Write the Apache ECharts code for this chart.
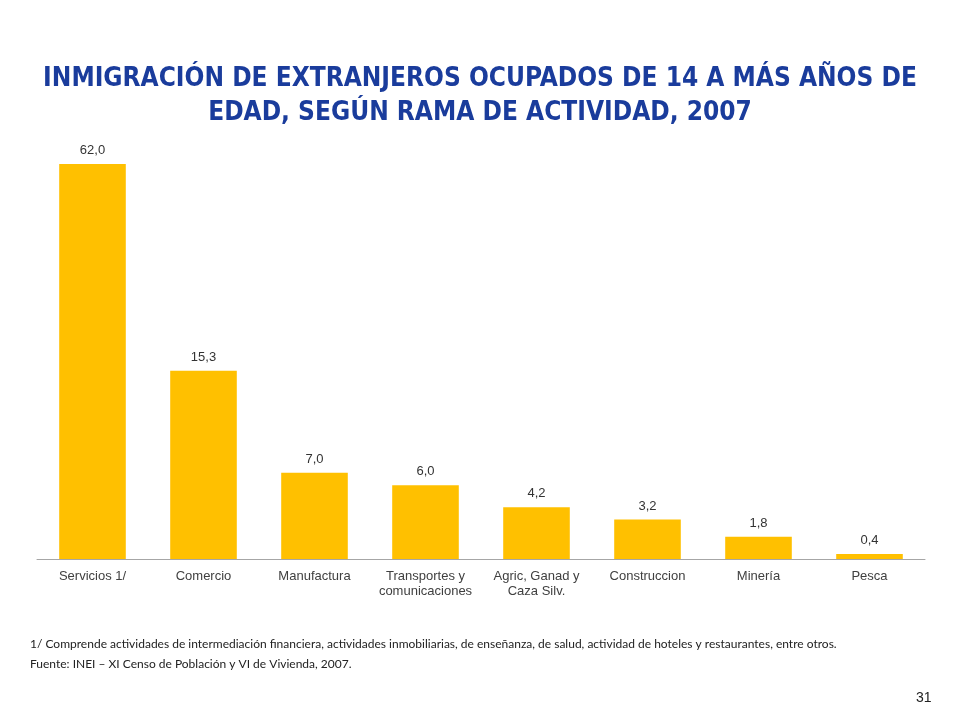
<!DOCTYPE html>
<html>
<head>
<meta charset="utf-8">
<script src="https://cdn.jsdelivr.net/npm/echarts@6/dist/echarts.min.js"></script>
<style>
html,body{margin:0;padding:0;background:#fff;}
#c{width:960px;height:720px;}
</style>
</head>
<body>
<div id="c"></div>
<script>
const categories = ['Servicios 1/', 'Comercio', 'Manufactura', 'Transportes y\ncomunicaciones', 'Agric, Ganad y\nCaza Silv.', 'Construccion', 'Minería', 'Pesca'];
const values = [62.0, 15.3, 7.0, 6.0, 4.2, 3.2, 1.8, 0.4];
const titleLines = ['INMIGRACIÓN DE EXTRANJEROS OCUPADOS DE 14 A MÁS AÑOS DE', 'EDAD, SEGÚN RAMA DE ACTIVIDAD, 2007'];
const footnotes = ['1/ Comprende actividades de intermediación financiera, actividades inmobiliarias, de enseñanza, de salud, actividad de hoteles y restaurantes, entre otros.', 'Fuente: INEI – XI Censo de Población y VI de Vivienda, 2007.'];
const pageNumber = '31';

const chart = echarts.init(document.getElementById('c'));
chart.setOption({
  backgroundColor: '#ffffff',
  animation: false,
  title: {
    text: titleLines.join('\n'),
    left: 'center',
    top: 57,
    textStyle: {
      fontFamily: 'DejaVu Sans Condensed',
      fontWeight: 'bold',
      fontSize: 26,
      lineHeight: 34,
      color: '#1a3c9c'
    }
  },
  graphic: [
    { type: 'text', left: 30, top: 638, style: { text: footnotes[0], font: '12px Lato, "Liberation Sans", sans-serif', fill: '#222' } },
    { type: 'text', left: 30, top: 658, style: { text: footnotes[1], font: '12px Lato, "Liberation Sans", sans-serif', fill: '#222' } },
    { type: 'text', left: 916, top: 691, style: { text: pageNumber, font: '14px "Liberation Sans"', fill: '#222' } }
  ],
  grid: { left: 37, right: 35, top: 164, bottom: 161, containLabel: false },
  xAxis: {
    type: 'category',
    data: categories,
    axisLine: { lineStyle: { color: '#a6a6a6', width: 1 } },
    axisTick: { show: false },
    axisLabel: {
      interval: 0,
      color: '#404040',
      fontFamily: 'Liberation Sans',
      fontSize: 13,
      lineHeight: 15,
      margin: 10
    }
  },
  yAxis: {
    type: 'value',
    min: 0,
    max: 32.1,
    show: false,
    splitLine: { show: false }
  },
  series: [{
    type: 'bar',
    data: values,
    barWidth: '60%',
    clip: true,
    itemStyle: { color: '#FFC000' },
    label: {
      show: true,
      position: 'top',
      distance: 7,
      color: '#333',
      fontFamily: 'Liberation Sans',
      fontSize: 13,
      formatter: p => p.value.toFixed(1).replace('.', ',')
    }
  }]
});
</script>
</body>
</html>
